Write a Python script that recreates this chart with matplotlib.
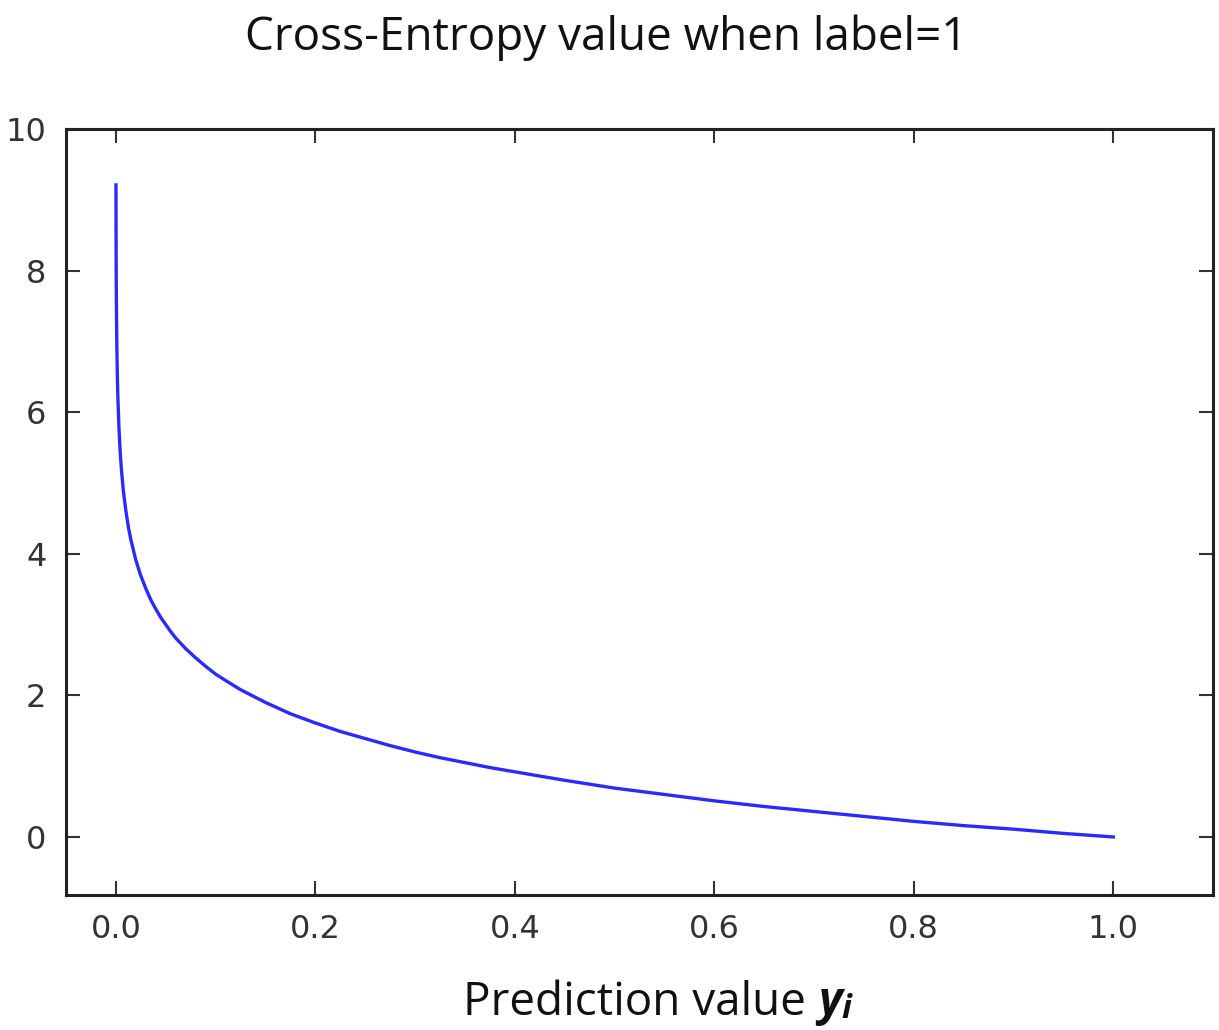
import matplotlib
matplotlib.use("Agg")
import matplotlib.pyplot as plt

# Values
pred = [0.0001, 0.0002, 0.0003, 0.0004, 0.0005, 0.0007, 0.001, 0.0015, 0.002, 0.003,
        0.004, 0.005, 0.006, 0.0075, 0.01, 0.0125, 0.015, 0.02, 0.025, 0.03,
        0.035, 0.04, 0.045, 0.05, 0.055, 0.06, 0.07, 0.08, 0.09, 0.1,
        0.11, 0.125, 0.15, 0.175, 0.2, 0.225, 0.25, 0.275, 0.3, 0.325,
        0.35, 0.375, 0.4, 0.45, 0.5, 0.55, 0.6, 0.65, 0.7, 0.75,
        0.8, 0.85, 0.9, 0.95, 1.0]
ce = [9.21, 8.52, 8.11, 7.82, 7.60, 7.26, 6.91, 6.50, 6.21, 5.81,
      5.52, 5.30, 5.12, 4.89, 4.61, 4.38, 4.20, 3.91, 3.69, 3.51,
      3.35, 3.22, 3.10, 3.00, 2.90, 2.81, 2.66, 2.53, 2.41, 2.30,
      2.21, 2.08, 1.90, 1.74, 1.61, 1.49, 1.39, 1.29, 1.20, 1.12,
      1.05, 0.98, 0.92, 0.80, 0.69, 0.60, 0.51, 0.43, 0.36, 0.29,
      0.22, 0.16, 0.11, 0.05, 0.00]
xticks = [0.0, 0.2, 0.4, 0.6, 0.8, 1.0]
yticks = [0, 2, 4, 6, 8, 10]

plt.rcParams["font.family"] = ["DejaVu Sans"]

fig = plt.figure(figsize=(12.19, 10.30), dpi=100)
ax = fig.add_axes([66/1219, 1 - 895/1030, (1213-66)/1219, (895-129)/1030])

ax.plot(pred, ce, color="#2a2aff", lw=2.4, solid_joinstyle="round")
ax.set_xlim(-0.05, 1.1)
ax.set_ylim(-0.82, 10)
ax.set_xticks(xticks)
ax.set_xticklabels([f"{t:.1f}" for t in xticks])
ax.set_yticks(yticks)
ax.tick_params(direction="in", length=10, width=1.5, top=True, right=True,
               labelsize=23, labelcolor="#333333", color="#333333", pad=14)
for s in ax.spines.values():
    s.set_linewidth(2.2)
    s.set_color("#222222")

fig.text(606/1219, 1 - 38/1030, "Cross-Entropy value when label=1", ha="center", va="center",
         fontsize=33, family="Open Sans", color="#111111")

t1 = fig.text(463/1219, 1 - 1003/1030, "Prediction value ", ha="left", va="center",
              fontsize=33, family="Open Sans", color="#111111")
t2 = ax.annotate("y", xy=(1, 0), xycoords=t1, va="bottom", ha="left",
                 fontsize=33, family="Open Sans", fontweight="bold", fontstyle="italic",
                 color="#111111", annotation_clip=False)
t3 = ax.annotate("i", xy=(1, 0), xycoords=t2, va="bottom", ha="left",
                 fontsize=24, family="Open Sans", fontweight="bold", fontstyle="italic",
                 color="#111111", annotation_clip=False)

fig.savefig("out.png", dpi=100)
